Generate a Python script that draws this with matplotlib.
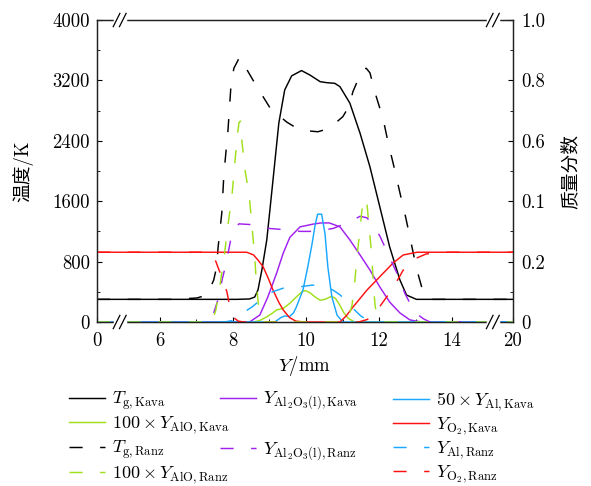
import numpy as np
import matplotlib
matplotlib.use('Agg')
import matplotlib.pyplot as plt
from matplotlib.ticker import FixedLocator, MultipleLocator
from matplotlib.lines import Line2D

plt.rcParams.update({'font.family': ['cmr10', 'Noto Sans CJK SC'],
                     'mathtext.fontset': 'cm',
                     'axes.formatter.use_mathtext': True,
                     'font.size': 13.5,
                     'axes.unicode_minus': False})

# ---------------- data (Y in mm) ----------------
y_tk = [0, 6.0, 8.11, 8.46, 8.60, 8.69, 8.80, 8.93, 9.03, 9.12, 9.26, 9.42, 9.61, 9.88,
        10.11, 10.39, 10.57, 10.79, 10.93, 11.20, 11.48, 11.75, 12.02, 12.29, 12.57,
        12.75, 13.02, 14.5, 20]
t_kava = [300, 300, 300, 305, 330, 424, 700, 1086, 1550, 1973, 2636, 3073, 3260, 3330,
          3271, 3183, 3170, 3161, 3117, 2900, 2500, 2055, 1525, 993, 556,
          357, 300, 300, 300]

y_tr = [0, 6.4, 7.02, 7.30, 7.48, 7.56, 7.60, 7.70, 7.76, 7.87, 7.95, 8.03, 8.19, 8.27,
        8.63, 9.02, 9.47, 9.84, 10.33, 10.64, 11.01, 11.20, 11.28, 11.42, 11.56, 11.65,
        11.75, 11.91, 12.11, 12.25, 12.41, 12.57, 12.73, 12.87, 13.02, 13.20, 13.39, 14.5, 20]
t_ranz = [300, 300, 318, 358, 556, 730, 990, 1440, 1970, 2540, 3120, 3360, 3510, 3440,
          3140, 2835, 2650, 2540, 2520, 2565, 2720, 2875, 3045, 3205, 3350, 3360,
          3300, 3005, 2690, 2370, 2050, 1710, 1380, 1060, 715, 400, 300, 300, 300]

y_o2k = [0, 8.38, 8.57, 8.69, 8.83, 8.97, 9.10, 9.26, 9.38, 9.55, 9.72, 9.95,
         10.93, 11.10, 11.29, 11.67, 12.02, 12.38, 12.66, 13.04, 14.5, 20]
o2_kava = [0.231, 0.231, 0.222, 0.205, 0.183, 0.145, 0.106, 0.065, 0.04, 0.015, 0.003, 0,
           0, 0.02, 0.05, 0.106, 0.15, 0.195, 0.222, 0.231, 0.231, 0.231]

y_o2r = [0, 7.31, 7.43, 7.54, 7.60, 7.73, 7.84, 7.90, 8.00, 8.15, 8.30,
         11.44, 11.67, 11.84, 12.07, 12.25, 12.51, 12.65, 12.82, 12.99, 13.28, 13.62, 20]
o2_ranz = [0.231, 0.231, 0.225, 0.2, 0.18, 0.14, 0.1, 0.063, 0.017, 0.003, 0,
           0, 0.008, 0.02, 0.06, 0.09, 0.14, 0.17, 0.195, 0.21, 0.225, 0.231, 0.231]

y_ak = [0, 8.46, 8.74, 8.96, 9.20, 9.38, 9.56, 9.84, 10.19, 10.41, 10.64, 10.93, 11.20,
        11.48, 11.75, 12.02, 12.29, 12.57, 12.84, 13.16, 20]
al2o3_kava = [0, 0, 0.023, 0.083, 0.162, 0.228, 0.28, 0.315, 0.324, 0.328, 0.328, 0.315, 0.272,
              0.222, 0.172, 0.116, 0.066, 0.03, 0.007, 0, 0]

y_ar = [0, 7.37, 7.48, 7.60, 7.71, 7.83, 7.94, 8.06, 8.17, 8.57, 8.97, 9.49, 9.84, 10.29,
        10.75, 11.16, 11.48, 11.67, 11.84, 12.02, 12.19, 12.38, 12.57, 12.70, 12.84,
        13.05, 13.22, 13.39, 20]
al2o3_ranz = [0, 0, 0.03, 0.075, 0.14, 0.2, 0.27, 0.31, 0.325, 0.322, 0.31, 0.305, 0.3, 0.3,
              0.31, 0.33, 0.35, 0.345, 0.32, 0.285, 0.24, 0.19, 0.14, 0.096, 0.063,
              0.025, 0.01, 0, 0]

y_lk = [0, 9.15, 9.32, 9.43, 9.55, 9.66, 9.74, 9.92, 10.05, 10.17, 10.25, 10.32, 10.43,
        10.52, 10.60, 10.71, 10.85, 11.01, 20]
al_kava = [0, 0, 0.015, 0.02, 0.018, 0.03, 0.05, 0.106, 0.182, 0.26, 0.32, 0.357, 0.357,
           0.294, 0.182, 0.083, 0.023, 0, 0]

y_lr = [0, 7.77, 8.00, 8.19, 8.34, 8.53, 8.83, 9.09, 9.38, 9.72, 10.17, 10.41, 10.57,
        10.75, 10.93, 11.14, 11.33, 11.50, 11.67, 11.90, 20]
al_ranz = [0, 0, 0.005, 0.02, 0.035, 0.05, 0.08, 0.1, 0.112, 0.115, 0.122, 0.12, 0.116,
           0.105, 0.09, 0.066, 0.04, 0.02, 0.007, 0, 0]

y_ok = [0, 8.57, 8.74, 8.93, 9.09, 9.20, 9.38, 9.56, 9.74, 9.89, 9.99, 10.11, 10.25,
        10.39, 10.52, 10.70, 10.81, 10.93, 11.04, 11.16, 11.33, 20]
alo_kava = [0, 0, 0.005, 0.017, 0.03, 0.04, 0.045, 0.062, 0.083, 0.1, 0.104, 0.097, 0.083,
            0.072, 0.075, 0.085, 0.078, 0.055, 0.03, 0.012, 0, 0]

y_or = [0, 7.43, 7.54, 7.65, 7.77, 7.88, 7.98, 8.06, 8.11, 8.17, 8.21, 8.25, 8.34, 8.45,
        8.53, 8.60, 8.64, 8.69, 8.74, 8.86,
        11.04, 11.16, 11.26, 11.34, 11.40, 11.48, 11.53, 11.61, 11.67, 11.73, 11.80,
        11.84, 11.89, 11.96, 12.07, 20]
alo_ranz = [0, 0, 0.04, 0.12, 0.22, 0.33, 0.42, 0.53, 0.6, 0.66, 0.665, 0.6, 0.5, 0.42,
            0.31, 0.22, 0.14, 0.07, 0.03, 0,
            0, 0.015, 0.055, 0.14, 0.22, 0.31, 0.37, 0.41, 0.39, 0.31, 0.22,
            0.13, 0.055, 0.01, 0, 0]

xticks = [0, 6, 8, 10, 12, 14, 20]
xminor = [7, 9, 11, 13]
rticks = [0, 0.2, 0.4, 0.6, 0.8, 1.0]
rlabels = ['0', '0.2', '0.1', '0.6', '0.8', '1.0']

# broken x axis: outer parts compressed
ky = [-1000, 0, 4.9, 15.1, 20, 1000]
ku = [-120.2, 4.29, 4.9, 15.1, 15.66, 127.4]
fwd = lambda v: np.interp(v, ky, ku)
inv = lambda v: np.interp(v, ku, ky)

c_k, c_g, c_p, c_c, c_r = 'black', '#9fe01a', '#a020f0', '#1aa8ff', '#ff1010'
ds = (0, (9, 12))
lw = 1.05

fig = plt.figure(figsize=(5.91, 4.86), dpi=100)
ax = fig.add_axes([97/591, 1-322/486, 416/591, 302/486])
ax.set_xscale('function', functions=(fwd, inv))
ax2 = ax.twinx()

h_tk, = ax.plot(y_tk, t_kava, color=c_k, lw=lw)
h_tr, = ax.plot(y_tr, t_ranz, color=c_k, lw=lw, ls=ds)
h_ok, = ax2.plot(y_ok, alo_kava, color=c_g, lw=lw)
h_ak, = ax2.plot(y_ak, al2o3_kava, color=c_p, lw=lw)
h_lk, = ax2.plot(y_lk, al_kava, color=c_c, lw=lw)
h_o2k, = ax2.plot(y_o2k, o2_kava, color=c_r, lw=lw)
h_ar, = ax2.plot(y_ar, al2o3_ranz, color=c_p, lw=lw, ls=ds)
h_lr, = ax2.plot(y_lr, al_ranz, color=c_c, lw=lw, ls=ds)
h_o2r, = ax2.plot(y_o2r, o2_ranz, color=c_r, lw=lw, ls=ds)
h_or, = ax2.plot(y_or, alo_ranz, color=c_g, lw=lw, ls=ds)

ax.set_xlim(0, 20)
ax.set_xticks(xticks)
ax.set_xticklabels([str(v) for v in xticks])
ax.xaxis.set_minor_locator(FixedLocator(xminor))
ax.set_ylim(0, 4000)
ax.yaxis.set_major_locator(MultipleLocator(800))
ax.yaxis.set_minor_locator(MultipleLocator(400))
ax.set_yticklabels([str(int(v)) for v in ax.get_yticks()])
ax2.set_ylim(0, 1)
ax2.set_yticks(rticks)
ax2.set_yticklabels(rlabels)
ax2.yaxis.set_minor_locator(MultipleLocator(0.1))

ax.tick_params(which='both', direction='in', top=False, right=False, pad=5)
ax.tick_params(which='major', length=3.5)
ax.tick_params(which='minor', length=2.5)
ax.tick_params(axis='x', pad=7)
ax2.tick_params(which='both', direction='in', right=True, left=False, top=False, pad=6)
ax2.tick_params(which='major', length=3.5)
ax2.tick_params(which='minor', length=2.5)
for a in (ax, ax2):
    for s in a.spines.values():
        s.set_linewidth(0.9)
        s.set_color('#222222')

ax.set_xlabel(r'$Y$/mm', labelpad=3)
ax.set_ylabel('温度/K', labelpad=14)
ax2.set_ylabel('质量分数', labelpad=12)

# break marks
for xb in (0.055, 0.952):
    for yb in (0, 1):
        ax2.plot([xb - 0.012, xb + 0.012], [yb, yb], color='white', lw=2.5,
                 transform=ax2.transAxes, clip_on=False, zorder=10)
        for dx in (-0.008, 0.007):
            ax2.plot([xb + dx - 0.008, xb + dx + 0.008], [yb - 0.022, yb + 0.022],
                     color='black', lw=0.9, transform=ax2.transAxes, clip_on=False, zorder=11)

# legend in three columns
blank = Line2D([], [], ls='none')
cols = [
    ([h_tk, h_ok, h_tr, h_or],
     [r'$T_{\rm g,Kava}$', r'$100\times Y_{\rm AlO,Kava}$', r'$T_{\rm g,Ranz}$',
      r'$100\times Y_{\rm AlO,Ranz}$'], 69),
    ([h_ak, blank, h_ar, blank],
     [r'$Y_{\mathrm{Al}_2\mathrm{O}_3\mathrm{(l),Kava}}$', r'$T_{\rm g}$',
      r'$Y_{\mathrm{Al}_2\mathrm{O}_3\mathrm{(l),Ranz}}$', r'$T_{\rm g}$'], 220),
    ([h_lk, h_o2k, h_lr, h_o2r],
     [r'$50\times Y_{\rm Al,Kava}$', r'$Y_{\mathrm{O}_2\mathrm{,Kava}}$',
      r'$Y_{\rm Al,Ranz}$', r'$Y_{\mathrm{O}_2\mathrm{,Ranz}}$'], 393),
]
for hs, ls, x0 in cols:
    leg = fig.legend(hs, ls, loc='upper left', bbox_to_anchor=(x0/591, 1 - 390/486),
                     frameon=False, borderpad=0, borderaxespad=0, handlelength=1.97,
                     handletextpad=0.42, labelspacing=0.15, fontsize=13)
    for h, t in zip(hs, leg.get_texts()):
        if h is blank:
            t.set_alpha(0)

fig.savefig('out.png', dpi=100)
